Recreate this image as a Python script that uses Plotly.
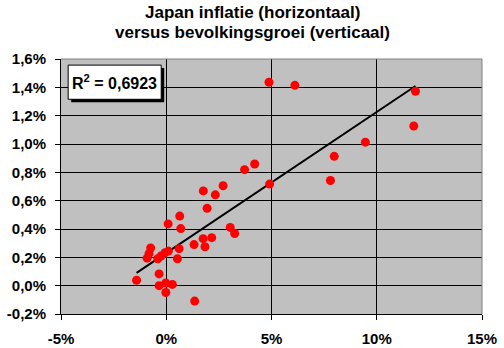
import numpy as np
import plotly.graph_objects as go

# inflation (%), horizontal
inflatie = [4.88, 6.11, 11.84, 11.76, 9.46, 7.98, 7.80, 4.91, 4.20, 3.72,
            2.70, 1.76, 2.33, 1.94, 3.04, 3.25, 2.16, 1.75, 1.84, 0.64,
            0.09, 0.69, 1.32, -0.74, -0.82, -0.91, -0.25, -0.06, 0.10, 0.61,
            0.53, -0.34, -1.41, -0.34, -0.02, 0.29, -0.02, 1.35, -0.40]
# population growth (%), vertical
bevolking = [1.436, 1.414, 1.372, 1.127, 1.013, 0.913, 0.742, 0.717, 0.859, 0.819,
             0.705, 0.669, 0.641, 0.546, 0.411, 0.368, 0.339, 0.332, 0.275, 0.491,
             0.436, 0.403, 0.290, 0.266, 0.226, 0.194, 0.209, 0.233, 0.244, 0.261,
             0.190, 0.083, 0.038, 0.000, 0.019, 0.009, -0.048, -0.109, 0.190]

x_ticks = [-5, 0, 5, 10, 15]
x_labels = ["-5%", "0%", "5%", "10%", "15%"]
y_ticks = [-0.2, 0.0, 0.2, 0.4, 0.6, 0.8, 1.0, 1.2, 1.4, 1.6]
y_labels = ["-0,2%", "0,0%", "0,2%", "0,4%", "0,6%", "0,8%", "1,0%", "1,2%", "1,4%", "1,6%"]
title_lines = ["Japan inflatie (horizontaal)", "versus bevolkingsgroei (verticaal)"]
r2_text = "R<sup>2</sup> = 0,6923"

xa = np.array(inflatie)
ya = np.array(bevolking)
slope, intercept = np.polyfit(xa, ya, 1)
tx = np.array([xa.min(), xa.max()])
ty = slope * tx + intercept

FONT = "Arial, Liberation Sans, sans-serif"
W, H = 504, 348
ML, MR, MT, MB = 61, 22, 59, 34
PW, PH = W - ML - MR, H - MT - MB

fig = go.Figure()
fig.add_trace(go.Scatter(x=tx, y=ty, mode="lines",
                         line=dict(color="black", width=2), hoverinfo="skip"))
fig.add_trace(go.Scatter(x=inflatie, y=bevolking, mode="markers",
                         marker=dict(color="#FF0000", size=9, line=dict(width=0))))

fig.update_layout(
    width=W, height=H,
    margin=dict(l=ML, r=MR, t=MT, b=MB, autoexpand=False),
    paper_bgcolor="white", plot_bgcolor="#C0C0C0",
    showlegend=False,
    font=dict(family=FONT, color="black", size=15),
)
fig.update_xaxes(range=[-5, 15], tickvals=x_ticks, ticktext=x_labels, automargin=False,
                 showgrid=True, gridcolor="black", gridwidth=1,
                 zeroline=False, showline=True, linecolor="black", linewidth=1,
                 ticks="outside", ticklen=5, tickcolor="black", ticklabelstandoff=6,
                 tickfont=dict(family=FONT, size=15, color="black", weight="bold"))
fig.update_yaxes(range=[-0.2, 1.6], tickvals=y_ticks, ticktext=y_labels, automargin=False,
                 showgrid=True, gridcolor="black", gridwidth=1,
                 zeroline=False, showline=True, linecolor="black", linewidth=1,
                 ticks="outside", ticklen=5, tickcolor="black", ticklabelstandoff=6,
                 tickfont=dict(family=FONT, size=15, color="black", weight="bold"))

# title lines (centre positions in pixels from top)
for txt, py in zip(title_lines, [13, 33]):
    fig.add_annotation(xref="paper", yref="paper",
                       x=(W / 2 - ML) / PW, y=(H - MB - py) / PH,
                       text=txt, showarrow=False, xanchor="center", yanchor="middle",
                       font=dict(family=FONT, size=17, color="black", weight="bold"))

# gray top/right plot border
fig.add_shape(type="line", xref="x domain", yref="y domain", x0=0, x1=1, y0=1, y1=1,
              line=dict(color="#808080", width=1))
fig.add_shape(type="line", xref="x domain", yref="y domain", x0=1, x1=1, y0=0, y1=1,
              line=dict(color="#808080", width=1))

# R^2 box with shadow
bx0, bx1, by0, by1 = 0.017, 0.238, 0.842, 0.976
dx, dy = 3 / PW, 3 / PH
fig.add_shape(type="rect", xref="x domain", yref="y domain",
              x0=bx0 + dx, x1=bx1 + dx, y0=by0 - dy, y1=by1 - dy,
              fillcolor="black", line=dict(width=0))
fig.add_shape(type="rect", xref="x domain", yref="y domain",
              x0=bx0, x1=bx1, y0=by0, y1=by1,
              fillcolor="white", line=dict(color="black", width=1))
fig.add_annotation(xref="x domain", yref="y domain", x=(bx0 + bx1) / 2, y=(by0 + by1) / 2,
                   text=r2_text, showarrow=False, xanchor="center", yanchor="middle",
                   font=dict(family=FONT, size=16, color="black", weight="bold"))

fig.write_html("out.html")
